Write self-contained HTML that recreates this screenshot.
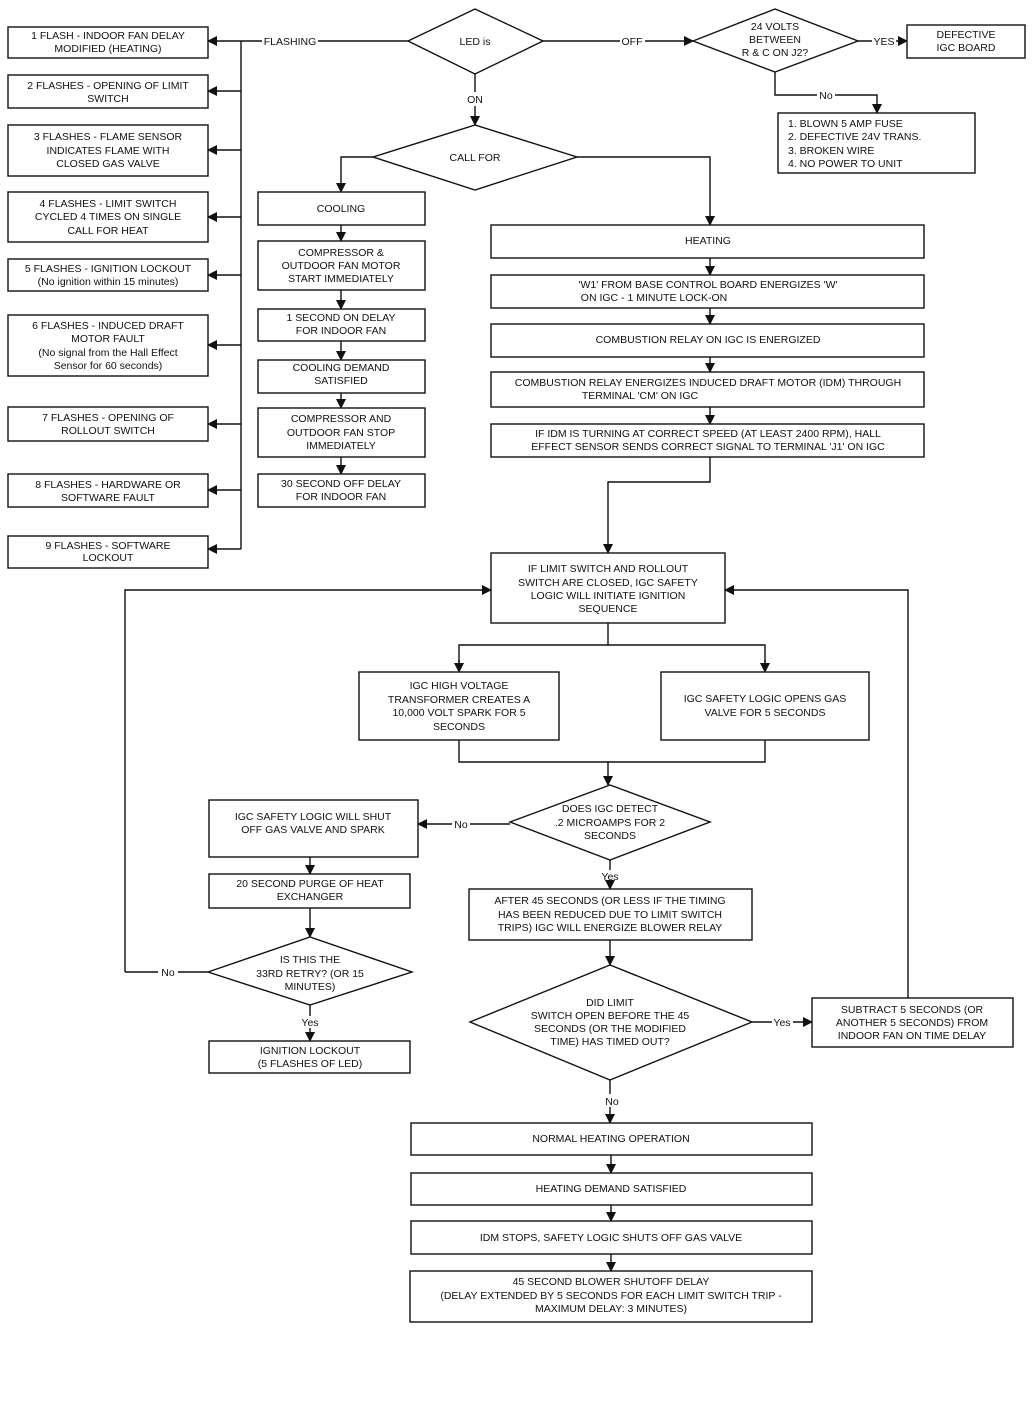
<!DOCTYPE html>
<html><head><meta charset="utf-8"><style>
html,body{margin:0;padding:0;background:#fff;}
svg{display:block;}
text{font-family:"Liberation Sans",Arial,sans-serif;font-size:10.5px;fill:#111;text-anchor:middle;}
.b{fill:#fff;stroke:#111;stroke-width:1.4;}
.l{fill:none;stroke:#111;stroke-width:1.4;}
</style></head><body>
<svg width="1032" height="1408" viewBox="0 0 1032 1408">
<defs><marker id="a" markerWidth="10" markerHeight="10" refX="9" refY="5" orient="auto" markerUnits="userSpaceOnUse"><path d="M0,0 L10,5 L0,10 z" fill="#111"/></marker></defs>

<!-- left flash boxes -->
<rect class="b" x="8" y="27" width="200" height="31"/>
<text x="108" y="39">1 FLASH - INDOOR FAN DELAY</text><text x="108" y="52">MODIFIED  (HEATING)</text>
<rect class="b" x="8" y="75" width="200" height="33"/>
<text x="108" y="89">2 FLASHES - OPENING OF LIMIT</text><text x="108" y="102">SWITCH</text>
<rect class="b" x="8" y="125" width="200" height="51"/>
<text x="108" y="140">3 FLASHES - FLAME SENSOR</text><text x="108" y="154">INDICATES FLAME WITH</text><text x="108" y="167">CLOSED GAS VALVE</text>
<rect class="b" x="8" y="192" width="200" height="50"/>
<text x="108" y="207">4 FLASHES - LIMIT SWITCH</text><text x="108" y="220">CYCLED 4 TIMES ON SINGLE</text><text x="108" y="234">CALL FOR HEAT</text>
<rect class="b" x="8" y="259" width="200" height="32"/>
<text x="108" y="272">5 FLASHES - IGNITION LOCKOUT</text><text x="108" y="285">(No ignition within 15 minutes)</text>
<rect class="b" x="8" y="315" width="200" height="61"/>
<text x="108" y="329">6 FLASHES - INDUCED DRAFT</text><text x="108" y="342">MOTOR FAULT</text><text x="108" y="356">(No signal from the Hall Effect</text><text x="108" y="369">Sensor for 60 seconds)</text>
<rect class="b" x="8" y="407" width="200" height="34"/>
<text x="108" y="421">7 FLASHES - OPENING OF</text><text x="108" y="434">ROLLOUT SWITCH</text>
<rect class="b" x="8" y="474" width="200" height="33"/>
<text x="108" y="488">8 FLASHES - HARDWARE OR</text><text x="108" y="501">SOFTWARE FAULT</text>
<rect class="b" x="8" y="536" width="200" height="32"/>
<text x="108" y="549">9 FLASHES - SOFTWARE</text><text x="108" y="561">LOCKOUT</text>
<path class="l" d="M241,41 V549"/>
<path class="l" d="M241,91 H208" marker-end="url(#a)"/>
<path class="l" d="M241,150 H208" marker-end="url(#a)"/>
<path class="l" d="M241,217 H208" marker-end="url(#a)"/>
<path class="l" d="M241,275 H208" marker-end="url(#a)"/>
<path class="l" d="M241,345 H208" marker-end="url(#a)"/>
<path class="l" d="M241,424 H208" marker-end="url(#a)"/>
<path class="l" d="M241,490 H208" marker-end="url(#a)"/>
<path class="l" d="M241,549 H208" marker-end="url(#a)"/>
<path class="l" d="M408,41 H318 M262,41 H208" marker-end="url(#a)"/>
<text x="290" y="45">FLASHING</text>

<!-- LED diamond -->
<polygon class="b" points="408,41 475,9 543,41 475,74"/>
<text x="475" y="45">LED is</text>
<path class="l" d="M543,41 H620 M645,41 H693" marker-end="url(#a)"/>
<text x="632" y="45">OFF</text>
<polygon class="b" points="693,41 775,9 858,41 775,72"/>
<text x="775" y="30">24 VOLTS</text><text x="775" y="43">BETWEEN</text><text x="775" y="56">R &amp; C ON J2?</text>
<path class="l" d="M858,41 H872 M896,41 H907" marker-end="url(#a)"/>
<text x="884" y="45">YES</text>
<rect class="b" x="907" y="25" width="118" height="33"/>
<text x="966" y="38">DEFECTIVE</text><text x="966" y="51">IGC BOARD</text>
<path class="l" d="M775,72 V95 H817 M835,95 H877 V113" marker-end="url(#a)"/>
<text x="826" y="99">No</text>
<rect class="b" x="778" y="113" width="197" height="60"/>
<text x="788" y="127" style="text-anchor:start">1.  BLOWN 5 AMP FUSE</text>
<text x="788" y="140" style="text-anchor:start">2.  DEFECTIVE 24V TRANS.</text>
<text x="788" y="154" style="text-anchor:start">3.   BROKEN WIRE</text>
<text x="788" y="167" style="text-anchor:start">4.  NO POWER TO UNIT</text>

<path class="l" d="M475,74 V92 M475,106 V125" marker-end="url(#a)"/>
<text x="475" y="103">ON</text>
<polygon class="b" points="373,157 475,125 577,157 475,190"/>
<text x="475" y="161">CALL  FOR</text>
<path class="l" d="M373,157 H341 V192" marker-end="url(#a)"/>
<path class="l" d="M577,157 H710 V225" marker-end="url(#a)"/>

<!-- cooling -->
<rect class="b" x="258" y="192" width="167" height="33"/><text x="341" y="212">COOLING</text>
<path class="l" d="M341,225 V241" marker-end="url(#a)"/>
<rect class="b" x="258" y="241" width="167" height="49"/>
<text x="341" y="256">COMPRESSOR  &amp;</text><text x="341" y="269">OUTDOOR FAN MOTOR</text><text x="341" y="282">START  IMMEDIATELY</text>
<path class="l" d="M341,290 V309" marker-end="url(#a)"/>
<rect class="b" x="258" y="309" width="167" height="32"/>
<text x="341" y="321">1 SECOND ON DELAY</text><text x="341" y="334">FOR INDOOR FAN</text>
<path class="l" d="M341,341 V360" marker-end="url(#a)"/>
<rect class="b" x="258" y="360" width="167" height="33"/>
<text x="341" y="371">COOLING  DEMAND</text><text x="341" y="384">SATISFIED</text>
<path class="l" d="M341,393 V408" marker-end="url(#a)"/>
<rect class="b" x="258" y="408" width="167" height="49"/>
<text x="341" y="422">COMPRESSOR  AND</text><text x="341" y="436">OUTDOOR FAN STOP</text><text x="341" y="449">IMMEDIATELY</text>
<path class="l" d="M341,457 V474" marker-end="url(#a)"/>
<rect class="b" x="258" y="474" width="167" height="33"/>
<text x="341" y="487">30 SECOND OFF DELAY</text><text x="341" y="500">FOR INDOOR FAN</text>

<!-- heating -->
<rect class="b" x="491" y="225" width="433" height="33"/><text x="708" y="244">HEATING</text>
<path class="l" d="M710,258 V275" marker-end="url(#a)"/>
<rect class="b" x="491" y="275" width="433" height="33"/>
<text x="708" y="288">'W1' FROM BASE CONTROL BOARD ENERGIZES 'W'</text><text x="654" y="301">ON IGC - 1 MINUTE LOCK-ON</text>
<path class="l" d="M710,308 V324" marker-end="url(#a)"/>
<rect class="b" x="491" y="324" width="433" height="33"/><text x="708" y="343">COMBUSTION RELAY ON IGC IS ENERGIZED</text>
<path class="l" d="M710,357 V372" marker-end="url(#a)"/>
<rect class="b" x="491" y="372" width="433" height="35"/>
<text x="708" y="386">COMBUSTION RELAY ENERGIZES INDUCED DRAFT MOTOR (IDM) THROUGH</text><text x="640" y="399">TERMINAL 'CM' ON IGC</text>
<path class="l" d="M710,407 V424" marker-end="url(#a)"/>
<rect class="b" x="491" y="424" width="433" height="33"/>
<text x="708" y="437">IF IDM IS TURNING AT CORRECT SPEED (AT LEAST 2400 RPM), HALL</text><text x="708" y="450">EFFECT SENSOR SENDS CORRECT SIGNAL TO TERMINAL 'J1' ON IGC</text>
<path class="l" d="M710,457 V482 H608 V553" marker-end="url(#a)"/>

<rect class="b" x="491" y="553" width="234" height="70"/>
<text x="608" y="572">IF LIMIT SWITCH AND ROLLOUT</text><text x="608" y="586">SWITCH ARE CLOSED, IGC SAFETY</text><text x="608" y="599">LOGIC WILL INITIATE IGNITION</text><text x="608" y="612">SEQUENCE</text>
<path class="l" d="M125,972 V590 H491" marker-end="url(#a)"/>
<path class="l" d="M908,998 V590 H725" marker-end="url(#a)"/>
<path class="l" d="M608,623 V645 M459,672 V645 H765 V672"/>
<path class="l" d="M459,660 V672" marker-end="url(#a)"/>
<path class="l" d="M765,660 V672" marker-end="url(#a)"/>
<rect class="b" x="359" y="672" width="200" height="68"/>
<text x="459" y="689">IGC HIGH VOLTAGE</text><text x="459" y="703">TRANSFORMER CREATES  A</text><text x="459" y="716">10,000 VOLT SPARK FOR 5</text><text x="459" y="730">SECONDS</text>
<rect class="b" x="661" y="672" width="208" height="68"/>
<text x="765" y="702">IGC SAFETY LOGIC OPENS GAS</text><text x="765" y="716">VALVE FOR 5 SECONDS</text>
<path class="l" d="M459,740 V762 H765 V740 M608,762 V785" marker-end="url(#a)"/>

<polygon class="b" points="510,822 610,785 710,822 610,860"/>
<text x="610" y="812">DOES IGC DETECT</text><text x="610" y="826">.2 MICROAMPS FOR 2</text><text x="610" y="839">SECONDS</text>
<path class="l" d="M510,824 H470 M452,824 H418" marker-end="url(#a)"/>
<text x="461" y="828">No</text>
<rect class="b" x="209" y="800" width="209" height="57"/>
<text x="313" y="820">IGC SAFETY LOGIC WILL SHUT</text><text x="313" y="833">OFF GAS VALVE AND SPARK</text>
<path class="l" d="M310,857 V874" marker-end="url(#a)"/>
<rect class="b" x="209" y="874" width="201" height="34"/>
<text x="310" y="887">20 SECOND PURGE OF HEAT</text><text x="310" y="900">EXCHANGER</text>
<path class="l" d="M310,908 V937" marker-end="url(#a)"/>
<polygon class="b" points="208,972 310,937 412,972 310,1005"/>
<text x="310" y="963">IS THIS THE</text><text x="310" y="977">33RD RETRY? (OR 15</text><text x="310" y="990">MINUTES)</text>
<path class="l" d="M208,972 H178 M158,972 H125"/>
<text x="168" y="976">No</text>
<path class="l" d="M310,1005 V1016 M310,1028 V1041" marker-end="url(#a)"/>
<text x="310" y="1026">Yes</text>
<rect class="b" x="209" y="1041" width="201" height="32"/>
<text x="310" y="1054">IGNITION LOCKOUT</text><text x="310" y="1067">(5 FLASHES OF LED)</text>

<path class="l" d="M610,860 V870 M610,882 V889" marker-end="url(#a)"/>
<text x="610" y="880">Yes</text>
<rect class="b" x="469" y="889" width="283" height="51"/>
<text x="610" y="904">AFTER 45 SECONDS (OR LESS IF THE TIMING</text><text x="610" y="918">HAS BEEN REDUCED DUE TO LIMIT SWITCH</text><text x="610" y="931">TRIPS)  IGC WILL ENERGIZE BLOWER RELAY</text>
<path class="l" d="M610,940 V965" marker-end="url(#a)"/>
<polygon class="b" points="470,1022 610,965 752,1022 610,1080"/>
<text x="610" y="1006">DID LIMIT</text><text x="610" y="1019">SWITCH OPEN BEFORE THE 45</text><text x="610" y="1032">SECONDS (OR THE MODIFIED</text><text x="610" y="1045">TIME) HAS TIMED OUT?</text>
<path class="l" d="M752,1022 H772 M793,1022 H812" marker-end="url(#a)"/>
<text x="782" y="1026">Yes</text>
<rect class="b" x="812" y="998" width="201" height="49"/>
<text x="912" y="1013">SUBTRACT 5 SECONDS (OR</text><text x="912" y="1026">ANOTHER 5 SECONDS)  FROM</text><text x="912" y="1039">INDOOR FAN ON TIME DELAY</text>
<path class="l" d="M610,1080 V1094 M610,1107 V1123" marker-end="url(#a)"/>
<text x="612" y="1105">No</text>
<rect class="b" x="411" y="1123" width="401" height="32"/><text x="611" y="1142">NORMAL HEATING  OPERATION</text>
<path class="l" d="M611,1155 V1173" marker-end="url(#a)"/>
<rect class="b" x="411" y="1173" width="401" height="32"/><text x="611" y="1192">HEATING DEMAND  SATISFIED</text>
<path class="l" d="M611,1205 V1221" marker-end="url(#a)"/>
<rect class="b" x="411" y="1221" width="401" height="33"/><text x="611" y="1241">IDM STOPS, SAFETY LOGIC SHUTS OFF GAS VALVE</text>
<path class="l" d="M611,1254 V1271" marker-end="url(#a)"/>
<rect class="b" x="410" y="1271" width="402" height="51"/>
<text x="611" y="1285">45 SECOND BLOWER SHUTOFF DELAY</text><text x="611" y="1299">(DELAY EXTENDED BY 5 SECONDS FOR EACH LIMIT SWITCH TRIP -</text><text x="611" y="1312">MAXIMUM DELAY: 3 MINUTES)</text>
</svg>
</body></html>
